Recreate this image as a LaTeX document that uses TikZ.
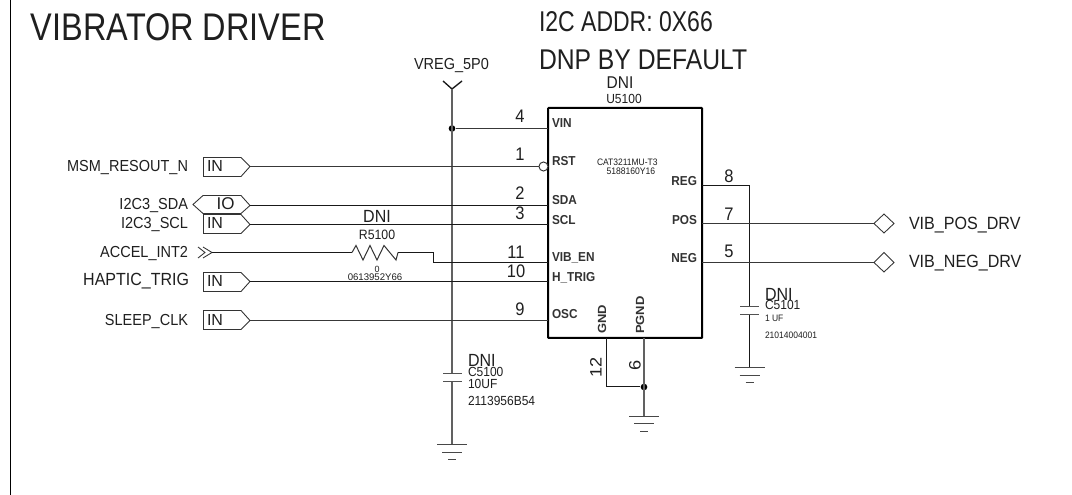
\documentclass[tikz,border=0pt]{standalone}
\usepackage{fontspec}
\setmainfont{Liberation Sans}
\newcommand\pinfont{\bfseries}
\newcommand\fpx[1]{\pgfmathsetmacro\fpxv{#1*0.75}\fontsize{\fpxv pt}{\fpxv pt}\selectfont}
\tikzset{
  txt/.style={inner sep=0pt,outer sep=0pt,text=black!88,yscale=1.1,transform shape},
  tw/.style={txt,anchor=base west},
  te/.style={txt,anchor=base east},
  tc/.style={txt,anchor=base},
  pinl/.style={tw,font=\pinfont\fpx{11.8},text=black!80},
  pinr/.style={te,font=\pinfont\fpx{11.8},text=black!80},
  pnum/.style={tc,font=\fpx{16.5}},
  sig/.style={te,font=\fpx{14.5}},
  tagtxt/.style={tw,font=\fpx{16},yscale=0.91},
  wire/.style={line width=0.75pt,draw=black!78},
  rail/.style={line width=1.3pt,draw=black!62},
  thinw/.style={line width=0.75pt,draw=black!90},
  tag/.style={line width=0.65pt,draw=black!80},
  gndl/.style={line width=0.75pt,draw=black!72},
  plate/.style={line width=1pt,draw=black!68},
  icbox/.style={line width=1.5pt,draw=black,rectangle,inner sep=0pt,outer sep=0pt,rounded corners=0.5pt},
  dot/.style={circle,fill=black,inner sep=0pt,minimum size=5pt},
  bub/.style={circle,draw=black!80,fill=white,line width=0.7pt,inner sep=0pt,minimum size=6.8pt}
}
\begin{document}
\begin{tikzpicture}[x=0.75pt,y=-0.75pt]
\useasboundingbox (0,0) rectangle (1072,495);
\fill[white] (0,0) rectangle (1072,495);
% frame
\coordinate (ft) at (10.5,0); \coordinate (fb) at (10.5,495);
\draw[line width=0.9pt,black] (ft) -- (fb);
% titles
\node[tw,font=\fpx{34},xscale=0.955,yscale=1.03] (title) at (31,41) {VIBRATOR DRIVER};
\node[tw,font=\fpx{23},yscale=1.13] (addr) at (539,32) {I2C ADDR: 0X66};
\node[tw,font=\fpx{24.7},yscale=1.05] (dnp) at (539,70) {DNP BY DEFAULT};
% IC
\node[icbox,minimum width=115.5pt,minimum height=172.5pt] (U) at (625,223) {};
\node[tc,font=\fpx{15.5}] (udni) at (620,89) {DNI};
\node[tc,font=\fpx{12}] (uref) at (624,104) {U5100};
\node[tw,font=\fpx{8.5}] (upn) at (597,166) {CAT3211MU-T3};
\node[tw,font=\fpx{8.6}] (upn2) at (606.5,175) {5188160Y16};
\node[pinl] (pvin) at (552,128) {VIN};
\node[pinl] (prst) at (552,166) {RST};
\node[pinl] (psda) at (552,205) {SDA};
\node[pinl] (pscl) at (552,224.5) {SCL};
\node[pinl] (pen) at (552,262) {VIB\_EN};
\node[pinl] (ptr) at (552,281.5) {H\_TRIG};
\node[pinl] (posc) at (552,319) {OSC};
\node[pinr] (preg) at (697,186) {REG};
\node[pinr] (ppos) at (697,224.5) {POS};
\node[pinr] (pneg) at (697,263) {NEG};
\node[tw,rotate=90,font=\pinfont\fpx{11.8},text=black!80] (pgnd) at (606,334) {GND};
\node[tw,rotate=90,font=\pinfont\fpx{11.8},text=black!80] (ppgnd) at (644,334) {PGND};
% pin coordinates on the box
\coordinate (vin) at (548,128.5); \coordinate (rst) at (539,166.5); \coordinate (sda) at (548,205.5);
\coordinate (scl) at (548,224.5); \coordinate (en) at (548,262.5); \coordinate (trg) at (548,281.5);
\coordinate (osc) at (548,320.5); \coordinate (reg) at (702,185.5); \coordinate (pos) at (702,223.5);
\coordinate (neg) at (702,262.5); \coordinate (gnd) at (606.5,338); \coordinate (pgn) at (644,338);
\node[bub] (rstb) at (543.5,166.5) {};
% pin numbers
\node[pnum] (n4) at (520,123) {4};
\node[pnum] (n1) at (520,161) {1};
\node[pnum] (n2) at (520,200) {2};
\node[pnum] (n3) at (520,220) {3};
\node[pnum] (n11) at (516,259) {11};
\node[pnum] (n10) at (516,278) {10};
\node[pnum] (n9) at (520,316) {9};
\node[pnum] (n8) at (729,183) {8};
\node[pnum] (n7) at (729,221) {7};
\node[pnum] (n5) at (729,258) {5};
\node[tw,rotate=90,font=\fpx{16.5}] (n12) at (601.5,378) {12};
\node[tw,rotate=90,font=\fpx{16.5}] (n6) at (640.5,371) {6};
% VREG rail
\node[tc,font=\fpx{14.5}] (vreg) at (451.5,70) {VREG\_5P0};
\coordinate (va) at (452,89); \coordinate (val) at (443,81); \coordinate (var) at (462,81);
\draw[line width=1pt,black!90] (val) -- (va) -- (var);
\node[dot] (vj) at (452,128.5) {};
\coordinate (c0t) at (452,373.5); \coordinate (c0b) at (452,381.5); \coordinate (g0) at (452,444.5);
\draw[rail] (va) -- (c0t) (c0b) -- (g0);
\draw[plate] (443,373.5) -- (462,373.5) (443,381.5) -- (462,381.5);
\draw[gndl] (g0) +(-15,0) -- +(15,0) (452,452.5) +(-10,0) -- +(10,0) (452,459.5) +(-4,0) -- +(4,0);
\node[tw,font=\fpx{16}] (c0d) at (468,367) {DNI};
\node[tw,font=\fpx{12}] (c0r) at (468,377) {C5100};
\node[tw,font=\fpx{12}] (c0v) at (468,389) {10UF};
\node[tw,font=\fpx{12}] (c0p) at (468,406) {2113956B54};
\draw[wire] (vj) -- (vin);
% input tags
\coordinate (t1) at (250,166.5); \coordinate (t2) at (250,205.5); \coordinate (t3) at (250,224.5);
\coordinate (t5) at (250,281.5); \coordinate (t6) at (250,320.5);
\draw[tag] (203.5,157.5) -- (241,157.5) -- (t1) -- (241,176.5) -- (203.5,176.5) -- cycle;
\draw[tag] (193,204.5) -- (203,195.5) -- (241,195.5) -- (t2) -- (241,213.5) -- (203,213.5) -- cycle;
\draw[tag] (203.5,214.5) -- (241,214.5) -- (t3) -- (241,233.5) -- (203.5,233.5) -- cycle;
\draw[tag] (203.5,272.5) -- (241,272.5) -- (t5) -- (241,291.5) -- (203.5,291.5) -- cycle;
\draw[tag] (203.5,310.5) -- (241,310.5) -- (t6) -- (241,329.5) -- (203.5,329.5) -- cycle;
\node[tagtxt] (i1) at (207,172) {IN};
\node[tc,font=\fpx{17},yscale=0.91] (i2) at (225.5,210) {IO};
\node[tagtxt] (i3) at (207,229) {IN};
\node[tagtxt] (i5) at (207,287) {IN};
\node[tagtxt] (i6) at (207,326) {IN};
\node[sig] (s1) at (188,172) {MSM\_RESOUT\_N};
\node[sig] (s2) at (188,210) {I2C3\_SDA};
\node[sig] (s3) at (188,229) {I2C3\_SCL};
\node[sig] (s4) at (188,258) {ACCEL\_INT2};
\node[te,font=\fpx{16}] (s5) at (189,286) {HAPTIC\_TRIG};
\node[sig] (s6) at (188,326) {SLEEP\_CLK};
\draw[wire] (t1) -- (rst);
\draw[thinw] (t2) -- (sda);
\draw[thinw] (t3) -- (scl);
\draw[thinw] (t5) -- (trg);
\draw[wire] (t6) -- (osc);
% ACCEL / resistor
\coordinate (ch) at (212,252.5);
\draw[tag] (198,247) -- (205,252.5) -- (198,258) (203,247) -- (ch) -- (203,258);
\coordinate (ra) at (352,252.5); \coordinate (rb) at (398,252.5); \coordinate (bend) at (433,252.5); \coordinate (bend2) at (433,262.5);
\draw[thinw] (ch) -- (ra);
\draw[line width=0.75pt,black!80] (ra) -- (356,245.5) -- (363,260) -- (370,245.5) -- (377,260) -- (384,245.5) -- (396,260) -- (rb);
\draw[thinw] (rb) -- (bend) -- (bend2) -- (en);
\node[tc,font=\fpx{16}] (rd) at (377,223) {DNI};
\node[tc,font=\fpx{12.3}] (rr) at (377,240) {R5100};
\node[tc,font=\fpx{9},yscale=0.91] (rv) at (377,273) {0};
\node[tc,font=\fpx{9.6},yscale=0.91] (rp) at (375,281) {0613952Y66};
% right side
\coordinate (regc) at (749.5,185.5); \coordinate (c1t) at (749.5,306.5); \coordinate (c1b) at (749.5,314.5); \coordinate (g1) at (749.5,367.5);
\draw[thinw] (reg) -- (regc) -- (c1t) (c1b) -- (g1);
\draw[plate] (740,306.5) -- (759,306.5) (740,314.5) -- (759,314.5);
\draw[gndl] (g1) +(-15,0) -- +(15,0) (749.5,375.5) +(-10,0) -- +(10,0) (749.5,382.5) +(-4,0) -- +(4,0);
\node[tw,font=\fpx{16}] (c1d) at (765,301) {DNI};
\node[tw,font=\fpx{12}] (c1r) at (765,310) {C5101};
\node[tw,font=\fpx{8.5}] (c1v) at (765,322) {1 UF};
\node[tw,font=\fpx{8.5}] (c1p) at (765,339) {21014004001};
\coordinate (d1) at (874,223.5); \coordinate (d2) at (874,262.5);
\draw[tag] (d1) -- (884,214) -- (894,223.5) -- (884,233) -- cycle;
\draw[tag] (d2) -- (884,252.5) -- (894,262.5) -- (884,272) -- cycle;
\draw[wire] (pos) -- (d1);
\draw[wire] (neg) -- (d2);
\node[tw,font=\fpx{16.1}] (o1) at (909,230) {VIB\_POS\_DRV};
\node[tw,font=\fpx{16.1}] (o2) at (909,268) {VIB\_NEG\_DRV};
% ground pins
\node[dot] (gj) at (644,387) {};
\coordinate (g2) at (644,416.5); \coordinate (gc) at (606.5,387);
\draw[thinw] (gnd) -- (gc) -- (gj);
\draw[rail] (pgn) -- (g2);
\draw[gndl] (g2) +(-15,0) -- +(15,0) (644,423.5) +(-10,0) -- +(10,0) (644,431.5) +(-4,0) -- +(4,0);
\end{tikzpicture}
\end{document}
